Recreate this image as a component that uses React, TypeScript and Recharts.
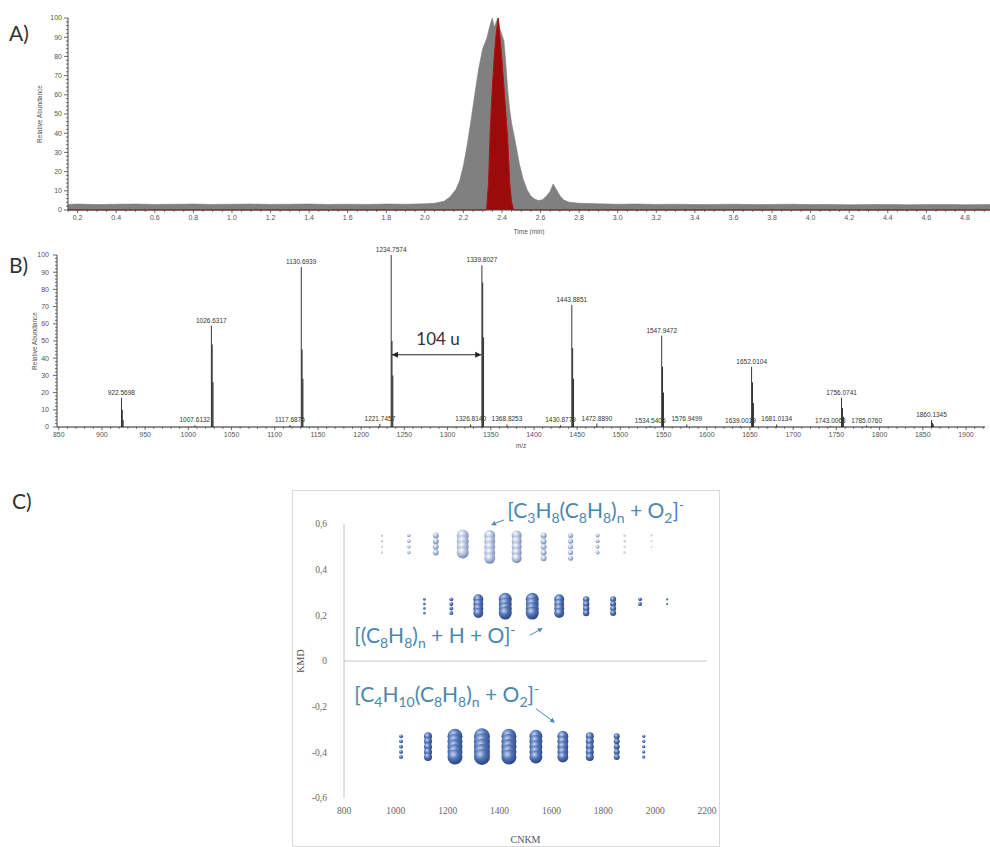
import React from "react";
import {
  Area,
  AreaChart,
  Bar,
  BarChart,
  LabelList,
  ReferenceDot,
  ReferenceLine,
  Scatter,
  ScatterChart,
  XAxis,
  YAxis,
  ZAxis,
} from "recharts";

// ---------- A) chromatogram ----------
const retentionTime = [
  0.15, 0.2, 0.3, 0.4, 0.5, 0.6, 0.7, 0.8, 0.9, 1.0,
  1.1, 1.2, 1.3, 1.4, 1.5, 1.6, 1.7, 1.8, 1.9, 2.0,
  2.05, 2.1, 2.13, 2.16, 2.18, 2.2, 2.22, 2.24, 2.26, 2.28,
  2.3, 2.32, 2.33, 2.34, 2.35, 2.36, 2.37, 2.38, 2.39, 2.4,
  2.41, 2.42, 2.43, 2.44, 2.45, 2.46, 2.47, 2.49, 2.51, 2.53,
  2.55, 2.57, 2.59, 2.61, 2.63, 2.65, 2.665, 2.68, 2.7, 2.72,
  2.75, 2.8, 2.9, 3.0, 3.1, 3.2, 3.3, 3.4, 3.5, 3.6,
  3.7, 3.8, 3.9, 4.0, 4.1, 4.2, 4.3, 4.4, 4.5, 4.6,
  4.7, 4.8, 4.9, 4.93,
];

// total ion current (grey)
const ticAbundance = [
  2.9, 3.1, 2.8, 3.0, 3.1, 2.9, 3.0, 3.1, 2.9, 3.0,
  3.1, 2.9, 3.0, 3.1, 2.9, 3.0, 2.9, 3.1, 3.0, 3.2,
  3.5, 4.6, 6.8, 10.5, 15, 23, 34, 47, 61, 74,
  84, 89, 93, 97, 100, 95, 98, 100, 94, 91,
  88, 76, 62, 52, 45, 40, 35, 24, 16, 10.5,
  7.2, 5.6, 4.9, 5.4, 7.2, 9.8, 13.5, 11, 7.5, 5.2,
  4.0, 3.5, 3.2, 3.0, 3.1, 2.9, 3.0, 2.8, 2.9, 3.0,
  2.8, 2.9, 3.0, 2.8, 2.9, 2.7, 2.8, 2.9, 2.7, 2.8,
  2.9, 2.7, 2.8, 2.8,
];

// extracted ion trace (red)
const xicAbundance = [
  0, 0, 0, 0, 0, 0, 0, 0, 0, 0,
  0, 0, 0, 0, 0, 0, 0, 0, 0, 0,
  0, 0, 0, 0, 0, 0, 0, 0, 0, 0,
  0, 0, 14, 44, 64, 80, 92, 100, 90, 78,
  64, 50, 36, 14, 4, 0, 0, 0, 0, 0,
  0, 0, 0, 0, 0, 0, 0, 0, 0, 0,
  0, 0, 0, 0, 0, 0, 0, 0, 0, 0,
  0, 0, 0, 0, 0, 0, 0, 0, 0, 0,
  0, 0, 0, 0,
];

const timeTicks = [
  0.2, 0.4, 0.6, 0.8, 1.0, 1.2, 1.4, 1.6, 1.8, 2.0, 2.2, 2.4,
  2.6, 2.8, 3.0, 3.2, 3.4, 3.6, 3.8, 4.0, 4.2, 4.4, 4.6, 4.8,
];
const abundanceTicks = [0, 10, 20, 30, 40, 50, 60, 70, 80, 90, 100];

// ---------- B) mass spectrum ----------
const peakMz = [
  922.5698, 1007.6132, 1026.6317, 1117.6876, 1130.6939, 1221.7457, 1234.7574,
  1326.814, 1339.8027, 1368.8253, 1430.8779, 1443.8851, 1472.889, 1534.5406,
  1547.9472, 1576.9499, 1639.0019, 1652.0104, 1681.0134, 1743.0063, 1756.0741,
  1785.076, 1860.1345,
];
const peakLabels = [
  "922.5698", "1007.6132", "1026.6317", "1117.6876", "1130.6939", "1221.7457", "1234.7574",
  "1326.8140", "1339.8027", "1368.8253", "1430.8779", "1443.8851", "1472.8890", "1534.5406",
  "1547.9472", "1576.9499", "1639.0019", "1652.0104", "1681.0134", "1743.0063", "1756.0741",
  "1785.0760", "1860.1345",
];
const peakAbundance = [
  17, 1, 59, 1.2, 93, 1.8, 100,
  1.5, 94, 1.5, 1, 71, 2, 0.6,
  53, 1.5, 0.6, 35, 1.5, 0.6, 17,
  0.8, 4,
];

// M+1 / M+2 isotope lines of the main oligomer peaks
const isotopeMz = [
  923.573, 924.576, 1027.635, 1028.638, 1131.697, 1132.7, 1235.761, 1236.764,
  1340.806, 1341.809, 1444.888, 1445.891, 1548.95, 1549.953, 1653.013, 1654.016,
  1757.077, 1758.08, 1861.137, 1862.14,
];
const isotopeAbundance = [
  10, 4, 48, 26, 45, 28, 50, 30,
  84, 52, 46, 28, 35, 20, 26, 14,
  11, 6, 2.5, 1.5,
];

const mzTicks = [
  850, 900, 950, 1000, 1050, 1100, 1150, 1200, 1250, 1300, 1350,
  1400, 1450, 1500, 1550, 1600, 1650, 1700, 1750, 1800, 1850, 1900,
];

// ---------- C) KMD plot ----------
const kmdLevelsC3H8 = [0.55, 0.525, 0.5, 0.475, 0.45];
const cnkmC3H8 = [946, 1050, 1154, 1258, 1362, 1466, 1570, 1674, 1778, 1882, 1986];
const countC3H8 = [4, 4, 4, 4, 5, 5, 5, 5, 4, 4, 3];
const intensityC3H8 = [1.6, 5, 14, 56, 47, 39, 14, 10, 6, 1.6, 1];

const kmdLevelsHO = [0.27, 0.25, 0.23, 0.21];
const cnkmHO = [1110, 1214, 1318, 1422, 1526, 1630, 1734, 1838, 1942, 2046];
const countHO = [4, 4, 4, 4, 4, 4, 4, 4, 2, 2];
const intensityHO = [3, 6, 39, 66, 66, 39, 16, 14, 6, 2];

const kmdLevelsC4H10 = [-0.33, -0.352, -0.375, -0.398, -0.42];
const cnkmC4H10 = [1020, 1124, 1228, 1332, 1436, 1540, 1644, 1748, 1852, 1956];
const countC4H10 = [5, 5, 5, 5, 5, 5, 5, 5, 5, 5];
const intensityC4H10 = [6, 25, 88, 100, 88, 66, 47, 25, 14, 4];

const cnkmTicks = [800, 1000, 1200, 1400, 1600, 1800, 2000, 2200];
const kmdTicks = [-0.6, -0.4, -0.2, 0, 0.2, 0.4, 0.6];

type Part = [string, ("sub" | "sup")?];

const formulaC3H8: Part[] = [
  ["[C"], ["3", "sub"], ["H"], ["8", "sub"], ["(C"], ["8", "sub"], ["H"], ["8", "sub"],
  [")"], ["n", "sub"], [" + O"], ["2", "sub"], ["]"], ["-", "sup"],
];
const formulaHO: Part[] = [
  ["[(C"], ["8", "sub"], ["H"], ["8", "sub"], [")"], ["n", "sub"], [" + H + O]"], ["-", "sup"],
];
const formulaC4H10: Part[] = [
  ["[C"], ["4", "sub"], ["H"], ["10", "sub"], ["(C"], ["8", "sub"], ["H"], ["8", "sub"],
  [")"], ["n", "sub"], [" + O"], ["2", "sub"], ["]"], ["-", "sup"],
];

const chromatogramRows = retentionTime.map((t, i) => ({
  t,
  tic: ticAbundance[i],
  xic: xicAbundance[i],
}));

const spectrumRows = [
  ...peakMz.map((mz, i) => ({ mz, abundance: peakAbundance[i], label: peakLabels[i] })),
  ...isotopeMz.map((mz, i) => ({ mz, abundance: isotopeAbundance[i] })),
].sort((a, b) => a.mz - b.mz);

function buildBand(cnkm: number[], counts: number[], intensity: number[], levels: number[]) {
  const points: { cnkm: number; kmd: number; z: number }[] = [];
  cnkm.forEach((x, i) => {
    for (let j = 0; j < counts[i]; j++) {
      points.push({ cnkm: x, kmd: levels[j], z: intensity[i] });
    }
  });
  return points;
}

const bandC3H8 = buildBand(cnkmC3H8, countC3H8, intensityC3H8, kmdLevelsC3H8);
const bandHO = buildBand(cnkmHO, countHO, intensityHO, kmdLevelsHO);
const bandC4H10 = buildBand(cnkmC4H10, countC4H10, intensityC4H10, kmdLevelsC4H10);

// minor tick grids (labels only on the major values)
const round2 = (v: number) => Math.round(v * 100) / 100;
const timeAxisTicks = Array.from({ length: 96 }, (_, k) => round2(0.15 + k * 0.05)).filter((v) => v <= 4.93);
const mzAxisTicks = Array.from({ length: 108 }, (_, k) => 850 + k * 10).filter((v) => v <= 1920);
const abundanceAxisTicks = Array.from({ length: 51 }, (_, k) => k * 2);

const SANS = "'Liberation Sans', Arial, sans-serif";
const SERIF = "'Liberation Serif', 'Times New Roman', serif";
const NOTE = "#4b87ae";
const AXIS = "#444";

function BottomTick(props: any) {
  const { x, y, payload, majors, fmt, size, margin } = props;
  const v = payload.value;
  const major = majors.includes(v);
  const y0 = y - size - margin;
  return (
    <g>
      <line x1={x} y1={y0} x2={x} y2={y0 + (major ? size : size * 0.6)} stroke={AXIS} strokeWidth={0.8} />
      {major && (
        <text x={x} y={y} dy="0.71em" textAnchor="middle" fontSize={7} fill="#555" fontFamily={SANS}>
          {fmt ? fmt(v) : v}
        </text>
      )}
    </g>
  );
}

function LeftTick(props: any) {
  const { x, y, payload, majors, size, margin } = props;
  const v = payload.value;
  const major = majors.includes(v);
  const x0 = x + size + margin;
  return (
    <g>
      <line x1={x0} y1={y} x2={x0 - (major ? size : size * 0.5)} y2={y} stroke={AXIS} strokeWidth={0.8} />
      {major && (
        <text x={x} y={y} dy="0.355em" textAnchor="end" fontSize={7} fill="#555" fontFamily={SANS}>
          {v}
        </text>
      )}
    </g>
  );
}

function DoubleArrow(props: any) {
  const { x1, y1, x2, y2 } = props;
  const h = 6;
  return (
    <g>
      <line x1={x1} y1={y1} x2={x2} y2={y2} stroke="#222" strokeWidth={1.2} />
      <path d={`M${x1},${y1} l${h},-${h * 0.5} v${h} z`} fill="#222" />
      <path d={`M${x2},${y2} l-${h},-${h * 0.5} v${h} z`} fill="#222" />
    </g>
  );
}

function Pointer(props: any) {
  const { x1, y1, x2, y2 } = props;
  const a = Math.atan2(y2 - y1, x2 - x1);
  const len = 5;
  const w = 2.4;
  const bx = x2 - len * Math.cos(a);
  const by = y2 - len * Math.sin(a);
  const p1 = `${bx + w * Math.sin(a)},${by - w * Math.cos(a)}`;
  const p2 = `${bx - w * Math.sin(a)},${by + w * Math.cos(a)}`;
  return (
    <g>
      <line x1={x1} y1={y1} x2={bx} y2={by} stroke={NOTE} strokeWidth={1} />
      <polygon points={`${x2},${y2} ${p1} ${p2}`} fill={NOTE} />
    </g>
  );
}

function formulaShape(parts: Part[]) {
  return (props: any) => {
    let shift = 0;
    return (
      <text x={props.cx} y={props.cy} fill={NOTE} fontSize={21} fontFamily="Lato, 'Open Sans', sans-serif">
        {parts.map(([txt, kind], i) => {
          const target = kind === "sub" ? 5 : kind === "sup" ? -8 : 0;
          const dy = target - shift;
          shift = target;
          return (
            <tspan key={i} dy={dy} fontSize={kind ? 14 : 21}>
              {txt}
            </tspan>
          );
        })}
      </text>
    );
  };
}

function sphere(gradientId: string) {
  return (props: any) => {
    const r = props.width ? props.width / 2 : Math.sqrt((props.size || 0) / Math.PI);
    if (!r || r < 0.3) return <g />;
    return <circle cx={props.cx} cy={props.cy} r={r} fill={`url(#${gradientId})`} />;
  };
}

function ChromatogramChart() {
  return (
    <AreaChart width={990} height={235} data={chromatogramRows} margin={{ top: 18, right: 0, left: 0, bottom: 0 }}>
      <XAxis
        dataKey="t"
        type="number"
        domain={[0.15, 4.93]}
        ticks={timeAxisTicks}
        interval={0}
        allowDataOverflow
        tickLine={false}
        tick={<BottomTick majors={timeTicks} fmt={(v: number) => v.toFixed(1)} size={3} margin={2} />}
        tickSize={3}
        tickMargin={2}
        height={25}
        stroke={AXIS}
        label={{ value: "Time (min)", position: "insideBottom", offset: 1, fontSize: 6.5, fill: "#555", fontFamily: SANS }}
      />
      <YAxis
        type="number"
        domain={[0, 100]}
        ticks={abundanceAxisTicks}
        interval={0}
        width={68}
        tickLine={false}
        tick={<LeftTick majors={abundanceTicks} size={4} margin={2} />}
        tickSize={4}
        tickMargin={2}
        stroke={AXIS}
        label={{
          value: "Relative Abundance",
          angle: -90,
          position: "insideLeft",
          offset: 40,
          fontSize: 6.5,
          fill: "#555",
          fontFamily: SANS,
          style: { textAnchor: "middle" },
        }}
      />
      <Area type="linear" dataKey="tic" fill="#808080" fillOpacity={1} stroke="#787878" strokeWidth={0.6} isAnimationActive={false} />
      <Area type="linear" dataKey="xic" fill="#9c0b0b" fillOpacity={1} stroke="#b01212" strokeWidth={1} isAnimationActive={false} />
    </AreaChart>
  );
}

function SpectrumChart() {
  return (
    <BarChart width={990} height={214} data={spectrumRows} margin={{ top: 20, right: 5, left: 0, bottom: 0 }}>
      <XAxis
        dataKey="mz"
        type="number"
        domain={[848, 1922]}
        ticks={mzAxisTicks}
        interval={0}
        allowDataOverflow
        tickLine={false}
        tick={<BottomTick majors={mzTicks} size={3} margin={2} />}
        tickSize={3}
        tickMargin={2}
        height={22}
        stroke="#222"
        label={{ value: "m/z", position: "insideBottom", offset: 1, fontSize: 6.5, fill: "#555", fontFamily: SANS }}
      />
      <YAxis
        type="number"
        domain={[0, 100]}
        ticks={abundanceAxisTicks}
        interval={0}
        width={57}
        tickLine={false}
        tick={<LeftTick majors={abundanceTicks} size={4} margin={4} />}
        tickSize={4}
        tickMargin={4}
        stroke={AXIS}
        label={{
          value: "Relative Abundance",
          angle: -90,
          position: "insideLeft",
          offset: 35,
          fontSize: 6.5,
          fill: "#555",
          fontFamily: SANS,
          style: { textAnchor: "middle" },
        }}
      />
      <Bar dataKey="abundance" fill="#000" barSize={1.6} isAnimationActive={false}>
        <LabelList dataKey="label" position="top" offset={3} fontSize={6.5} fill="#333" fontFamily={SANS} />
      </Bar>
      <ReferenceLine segment={[{ x: 1235.6, y: 42 }, { x: 1339, y: 42 }]} shape={DoubleArrow} />
      <ReferenceDot
        x={1289}
        y={51}
        r={0}
        fill="none"
        stroke="none"
        label={{ value: "104 u", position: "center", fontSize: 17, fill: "#333", fontFamily: "Lato, sans-serif" }}
      />
    </BarChart>
  );
}

function KmdChart() {
  return (
    <ScatterChart width={428} height={357} margin={{ top: 34, right: 13, left: 0, bottom: 0 }}>
      <defs>
        <radialGradient id="sphereBlue" cx="38%" cy="32%" r="70%">
          <stop offset="0%" stopColor="#c9d7f2" />
          <stop offset="45%" stopColor="#5274b8" />
          <stop offset="100%" stopColor="#2a427c" />
        </radialGradient>
        <radialGradient id="spherePale" cx="38%" cy="32%" r="70%">
          <stop offset="0%" stopColor="#ffffff" />
          <stop offset="50%" stopColor="#b2c0dc" />
          <stop offset="100%" stopColor="#7688ae" />
        </radialGradient>
      </defs>
      <XAxis
        dataKey="cnkm"
        type="number"
        domain={[800, 2200]}
        ticks={cnkmTicks}
        axisLine={false}
        tickLine={false}
        tickMargin={3}
        height={49}
        tick={{ fontSize: 9.5, fill: "#666", fontFamily: SERIF }}
        label={{ value: "CNKM", position: "insideBottom", offset: 4, fontSize: 10, fill: "#555", fontFamily: SERIF }}
      />
      <YAxis
        dataKey="kmd"
        type="number"
        domain={[-0.6, 0.6]}
        ticks={kmdTicks}
        width={52}
        tickLine={false}
        tickMargin={11}
        stroke="#c4c4c4"
        tick={{ fontSize: 9.5, fill: "#666", fontFamily: SERIF }}
        tickFormatter={(v: number) => (v === 0 ? "0" : v.toFixed(1).replace(".", ","))}
        label={{
          value: "KMD",
          angle: -90,
          position: "insideLeft",
          offset: 8,
          fontSize: 10,
          fill: "#555",
          fontFamily: SERIF,
          style: { textAnchor: "middle" },
        }}
      />
      <ZAxis dataKey="z" type="number" domain={[0, 100]} range={[0, 201]} />
      <ReferenceLine y={0} stroke="#c4c4c4" />
      <Scatter data={bandC3H8} shape={sphere("spherePale")} isAnimationActive={false} />
      <Scatter data={bandHO} shape={sphere("sphereBlue")} isAnimationActive={false} />
      <Scatter data={bandC4H10} shape={sphere("sphereBlue")} isAnimationActive={false} />
      <ReferenceLine segment={[{ x: 1418, y: 0.618 }, { x: 1367, y: 0.596 }]} ifOverflow="visible" shape={Pointer} />
      <ReferenceLine segment={[{ x: 1517, y: 0.113 }, { x: 1567, y: 0.144 }]} ifOverflow="visible" shape={Pointer} />
      <ReferenceLine segment={[{ x: 1540, y: -0.209 }, { x: 1614, y: -0.27 }]} ifOverflow="visible" shape={Pointer} />
      <ReferenceDot x={1430} y={0.628} ifOverflow="visible" shape={formulaShape(formulaC3H8)} />
      <ReferenceDot x={840} y={0.08} ifOverflow="visible" shape={formulaShape(formulaHO)} />
      <ReferenceDot x={840} y={-0.178} ifOverflow="visible" shape={formulaShape(formulaC4H10)} />
    </ScatterChart>
  );
}

const panelLabel: React.CSSProperties = {
  position: "absolute",
  fontSize: 21,
  lineHeight: 1,
  color: "#333",
  fontFamily: "Lato, 'Open Sans', sans-serif",
};

export default function App() {
  return (
    <div style={{ position: "absolute", left: 0, top: 0, width: 990, height: 847, background: "#fff", overflow: "hidden" }}>
      <div style={{ position: "absolute", left: 0, top: 0 }}>
        <ChromatogramChart />
      </div>
      <div style={{ position: "absolute", left: 0, top: 235 }}>
        <SpectrumChart />
      </div>
      <div style={{ position: "absolute", left: 292, top: 490, width: 428, height: 357, border: "1px solid #d9d9d9", boxSizing: "border-box" }} />
      <div style={{ position: "absolute", left: 292, top: 490 }}>
        <KmdChart />
      </div>
      <div style={{ ...panelLabel, left: 9, top: 22 }}>A)</div>
      <div style={{ ...panelLabel, left: 9, top: 254 }}>B)</div>
      <div style={{ ...panelLabel, left: 12, top: 490 }}>C)</div>
    </div>
  );
}
